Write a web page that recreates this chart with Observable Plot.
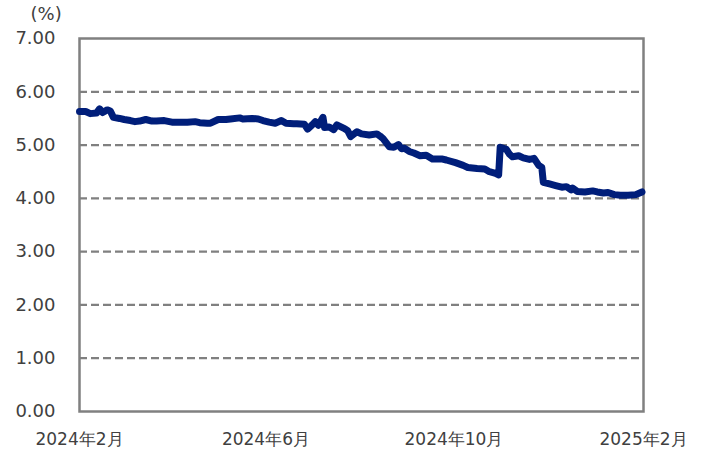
<!DOCTYPE html>
<html>
<head>
<meta charset="utf-8">
<script src="https://cdn.jsdelivr.net/npm/d3@7"></script>
<script src="https://cdn.jsdelivr.net/npm/@observablehq/plot@0.6"></script>
<style>
  html, body { margin: 0; padding: 0; background: #fff; }
  #chart { width: 702px; height: 453px; }
</style>
</head>
<body>
<div id="chart"></div>
<script>
const dates = [
  "2024-02-01","2024-02-05","2024-02-08","2024-02-12","2024-02-14","2024-02-16","2024-02-19","2024-02-21","2024-02-23","2024-02-27",
  "2024-03-01","2024-03-05","2024-03-08","2024-03-11","2024-03-15","2024-03-19","2024-03-22","2024-03-27","2024-04-01","2024-04-05",
  "2024-04-11","2024-04-16","2024-04-19","2024-04-24","2024-04-26","2024-05-01","2024-05-06","2024-05-09","2024-05-15","2024-05-17",
  "2024-05-23","2024-05-27","2024-05-30","2024-06-03","2024-06-07","2024-06-11","2024-06-14","2024-06-19","2024-06-21","2024-06-26",
  "2024-06-28","2024-07-01","2024-07-03","2024-07-05","2024-07-08","2024-07-09","2024-07-12","2024-07-15","2024-07-17","2024-07-22",
  "2024-07-24","2024-07-26","2024-07-30","2024-08-02","2024-08-07","2024-08-12","2024-08-14","2024-08-16","2024-08-20","2024-08-23",
  "2024-08-26","2024-08-28","2024-08-30","2024-09-02","2024-09-05","2024-09-09","2024-09-13","2024-09-17","2024-09-23","2024-09-26",
  "2024-10-02","2024-10-07","2024-10-10","2024-10-16","2024-10-21","2024-10-24","2024-10-28","2024-10-30","2024-10-31","2024-11-04",
  "2024-11-06","2024-11-08","2024-11-12","2024-11-15","2024-11-19","2024-11-22","2024-11-25","2024-11-27","2024-11-28","2024-12-02",
  "2024-12-06","2024-12-10","2024-12-13","2024-12-16","2024-12-17","2024-12-20","2024-12-25","2024-12-30","2025-01-02","2025-01-06",
  "2025-01-09","2025-01-13","2025-01-17","2025-01-22","2025-01-27","2025-01-31"
];
const values = [
  5.63,5.63,5.59,5.60,5.68,5.61,5.66,5.64,5.52,5.50,
  5.48,5.46,5.44,5.45,5.48,5.45,5.45,5.46,5.43,5.43,
  5.43,5.44,5.42,5.41,5.41,5.48,5.48,5.49,5.51,5.49,
  5.50,5.49,5.46,5.43,5.41,5.46,5.41,5.40,5.40,5.39,
  5.30,5.38,5.44,5.37,5.52,5.33,5.34,5.29,5.38,5.31,
  5.27,5.16,5.25,5.21,5.19,5.21,5.17,5.12,4.97,4.96,
  5.01,4.93,4.94,4.88,4.85,4.80,4.81,4.74,4.74,4.72,
  4.67,4.62,4.58,4.56,4.55,4.50,4.47,4.44,4.96,4.92,
  4.83,4.78,4.80,4.76,4.73,4.75,4.62,4.58,4.30,4.27,
  4.24,4.21,4.22,4.16,4.19,4.13,4.12,4.14,4.12,4.10,
  4.11,4.07,4.06,4.06,4.07,4.12
];
const xTicks = ["2024-02-01","2024-06-01","2024-10-01","2025-02-01"];
const xTickLabels = ["2024年2月","2024年6月","2024年10月","2025年2月"];
const yTicks = [0,1,2,3,4,5,6,7];
const gridTicks = [1,2,3,4,5,6];
const yUnit = "(%)";

const parse = d3.utcParse("%Y-%m-%d");
const data = dates.map((d, i) => ({date: parse(d), value: values[i]}));
const xTickDates = xTicks.map(parse);
const labelFor = new Map(xTickDates.map((d, i) => [+d, xTickLabels[i]]));

const chart = Plot.plot({
  width: 702,
  height: 453,
  marginLeft: 79,
  marginRight: 59,
  marginTop: 38,
  marginBottom: 42,
  style: {fontFamily: "DejaVu Sans, Verdana, sans-serif", fontSize: "18px", color: "#404040", background: "#fff"},
  x: {type: "utc", domain: [parse("2024-02-01"), parse("2025-02-01")]},
  y: {domain: [0, 7]},
  marks: [
    Plot.gridY(gridTicks, {stroke: "#808080", strokeOpacity: 1, strokeWidth: 2.2, strokeDasharray: "8,4"}),
    Plot.axisY(yTicks, {tickSize: 0, tickPadding: 24, tickFormat: d3.format(".2f"), label: null, fill: "#404040", fontSize: 18}),
    Plot.axisX(xTickDates, {tickSize: 0, tickPadding: 21, tickFormat: d => labelFor.get(+d), label: null, fill: "#404040", fontSize: 17}),
    Plot.frame({stroke: "#808080", strokeWidth: 2.5}),
    Plot.line(data, {x: "date", y: "value", stroke: "#001e7a", strokeWidth: 7, strokeLinejoin: "round", strokeLinecap: "round"}),
    Plot.text([yUnit], {frameAnchor: "top-left", dx: -49, dy: -31, text: d => d, fill: "#404040", fontSize: 18})
  ]
});
document.getElementById("chart").appendChild(chart);
</script>
</body>
</html>
